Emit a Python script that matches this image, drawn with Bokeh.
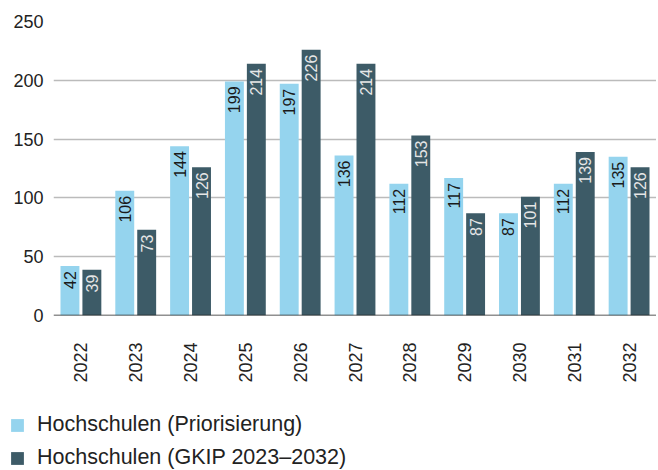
import math
from bokeh.plotting import figure
from bokeh.layouts import column, row
from bokeh.models import ColumnDataSource, FactorRange, Range1d, FixedTicker, Span, Legend, LegendItem
from bokeh.transform import dodge
from bokeh.core.properties import value
from bokeh.embed import file_html
from bokeh.resources import INLINE

years = ["2022", "2023", "2024", "2025", "2026", "2027", "2028", "2029", "2030", "2031", "2032"]
priorisierung = [42, 106, 144, 199, 197, 136, 112, 117, 87, 112, 135]
gkip = [39, 73, 126, 214, 226, 214, 153, 87, 101, 139, 126]
series_names = ["Hochschulen (Priorisierung)", "Hochschulen (GKIP 2023\u20132032)"]
y_ticks = [0, 50, 100, 150, 200, 250]

LIGHT = "#95D4EE"
DARK = "#3D5B67"
FONT = "Liberation Sans"
W = 656

src = ColumnDataSource(dict(
    years=years,
    a=priorisierung,
    b=gkip,
    a_txt=[str(v) for v in priorisierung],
    b_txt=[str(v) for v in gkip],
))

p = figure(
    width=W, height=400,
    x_range=FactorRange(*years, range_padding=0),
    y_range=Range1d(0, 250),
    output_backend="svg", toolbar_location=None,
    min_border_left=53, min_border_right=0, min_border_top=21, min_border_bottom=85,
)
p.outline_line_color = None
p.background_fill_color = "white"
p.border_fill_color = "white"

bw = 0.345
r1 = p.vbar(x=dodge("years", -0.2, range=p.x_range), top="a", width=bw, source=src,
            fill_color=LIGHT, line_color=None)
r2 = p.vbar(x=dodge("years", 0.2, range=p.x_range), top="b", width=bw, source=src,
            fill_color=DARK, line_color=None)

common = dict(angle=math.pi / 2, text_align="right", text_baseline="middle",
              text_font=value(FONT), text_font_size="16px", y_offset=5, source=src)
p.text(x=dodge("years", -0.2, range=p.x_range), y="a", text="a_txt", text_color="#1A1A1A", **common)
p.text(x=dodge("years", 0.2, range=p.x_range), y="b", text="b_txt", text_color="#E6E6E6", **common)

p.add_layout(Span(location=0, dimension="width", line_color="#222222", line_width=1.5))

p.xgrid.grid_line_color = None
p.ygrid.grid_line_color = "#BBBBBB"
p.ygrid.grid_line_width = 1.5
p.yaxis.ticker = FixedTicker(ticks=y_ticks)
p.yaxis.axis_line_color = None
p.yaxis.major_tick_line_color = None
p.yaxis.minor_tick_line_color = None
p.yaxis.major_tick_out = 0
p.yaxis.major_tick_in = 0
p.yaxis.major_label_standoff = 10
p.yaxis.major_label_text_font = FONT
p.yaxis.major_label_text_font_size = "18px"
p.yaxis.major_label_text_color = "#222222"

p.xaxis.axis_line_color = None
p.xaxis.major_tick_line_color = None
p.xaxis.minor_tick_line_color = None
p.xaxis.major_tick_out = 0
p.xaxis.major_tick_in = 0
p.xaxis.major_label_orientation = math.pi / 2
p.xaxis.major_label_standoff = 27
p.xaxis.major_label_text_font = FONT
p.xaxis.major_label_text_font_size = "18px"
p.xaxis.major_label_text_color = "#222222"

# legend strip
lg = figure(width=W, height=70, output_backend="svg", toolbar_location=None,
            x_range=Range1d(0, 1), y_range=Range1d(0, 1),
            min_border_left=0, min_border_right=0, min_border_top=0, min_border_bottom=0,
            outline_line_color=None)
lg.xaxis.visible = False
lg.yaxis.visible = False
lg.xgrid.visible = False
lg.ygrid.visible = False
hidden = ColumnDataSource(dict(x=[5], top=[5]))
l1 = lg.vbar(x="x", top="top", width=0.1, source=hidden, fill_color=LIGHT, line_color=None)
l2 = lg.vbar(x="x", top="top", width=0.1, source=hidden, fill_color=DARK, line_color=None)
legend = Legend(
    items=[LegendItem(label=series_names[0], renderers=[l1]),
           LegendItem(label=series_names[1], renderers=[l2])],
    location=(9, 0),
    orientation="vertical",
    glyph_width=16, glyph_height=16, label_height=22, spacing=8,
    label_standoff=12, padding=0, margin=0,
    border_line_color=None, background_fill_alpha=0,
    label_text_font=FONT, label_text_font_size="21.5px", label_text_color="#222222",
)
lg.add_layout(legend, "center")

layout = column(p, row(lg), spacing=0)
open("out.html", "w").write(file_html(layout, INLINE))
